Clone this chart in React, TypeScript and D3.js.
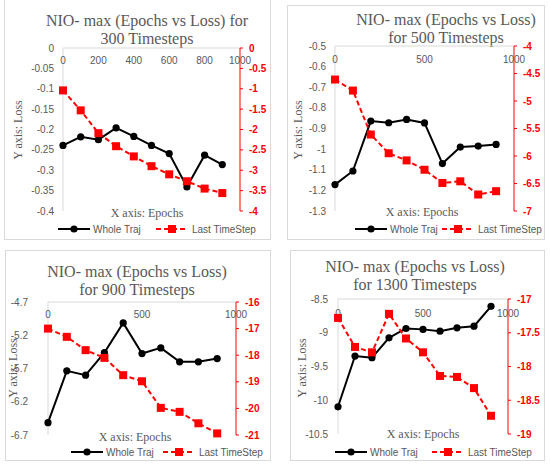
import * as d3 from 'd3';

// Epochs on the x axis (same for all four charts)
const EPOCHS = [0, 100, 200, 300, 400, 500, 600, 700, 800, 900];

// 300 timesteps
const WHOLE_300 = [-0.239, -0.218, -0.225, -0.196, -0.217, -0.239, -0.259, -0.341, -0.263, -0.286];
const LAST_300 = [-1.04, -1.53, -2.09, -2.41, -2.66, -2.9, -3.1, -3.27, -3.45, -3.56];
// 500 timesteps
const WHOLE_500 = [-1.172, -1.106, -0.864, -0.872, -0.856, -0.873, -1.07, -0.99, -0.985, -0.977];
const LAST_500 = [-4.61, -4.81, -5.61, -5.95, -6.08, -6.25, -6.49, -6.46, -6.7, -6.64];
// 900 timesteps
const WHOLE_900 = [-6.515, -5.735, -5.8, -5.46, -5.015, -5.475, -5.39, -5.6, -5.6, -5.55];
const LAST_900 = [-17.0, -17.31, -17.81, -18.1, -18.75, -18.98, -19.98, -20.13, -20.56, -20.94];
// 1300 timesteps
const WHOLE_1300 = [-10.097, -9.345, -9.37, -9.075, -8.937, -8.95, -8.976, -8.927, -8.903, -8.608];
const LAST_1300 = [-17.28, -17.71, -17.79, -17.22, -17.585, -17.79, -18.14, -18.155, -18.32, -18.73];

// axis ticks
const X_TICKS_300 = [0, 200, 400, 600, 800, 1000];
const X_TICKS = [0, 500, 1000];
const LEFT_TICKS_300 = [0, -0.05, -0.1, -0.15, -0.2, -0.25, -0.3, -0.35, -0.4];
const RIGHT_TICKS_300 = [0, -0.5, -1, -1.5, -2, -2.5, -3, -3.5, -4];
const LEFT_TICKS_500 = [-0.5, -0.6, -0.7, -0.8, -0.9, -1, -1.1, -1.2, -1.3];
const RIGHT_TICKS_500 = [-4, -4.5, -5, -5.5, -6, -6.5, -7];
const LEFT_TICKS_900 = [-4.7, -5.2, -5.7, -6.2, -6.7];
const RIGHT_TICKS_900 = [-16, -17, -18, -19, -20, -21];
const LEFT_TICKS_1300 = [-8.5, -9, -9.5, -10, -10.5];
const RIGHT_TICKS_1300 = [-17, -17.5, -18, -18.5, -19];

const GRAY = '#595959';
const LINE = '#d9d9d9';
const RED = '#ff0000';
const SERIF = '"Liberation Serif", "Times New Roman", serif';
const SANS = '"Liberation Sans", Arial, sans-serif';

interface PanelProps {
  box: [number, number, number, number];
  plot: { l: number; r: number; t: number; b: number };
  title: string[];
  titleX: number;
  titleY: number[];
  xTicks: number[];
  xTickY: number;
  leftTicks: number[];
  rightTicks: number[];
  whole: number[];
  last: number[];
  xTitle: [number, number];
  yTitle: [number, number];
  leftGap: number;
  legend: { y: number; a: number; b: number };
}

const fmt = (v: number) => (Math.abs(v) < 1e-9 ? '0' : String(+v.toFixed(2)));

function Panel(p: PanelProps) {
  const { plot } = p;
  const x = d3.scaleLinear().domain([0, 1000]).range([plot.l, plot.r]);
  const yl = d3.scaleLinear().domain(d3.extent(p.leftTicks) as [number, number]).range([plot.b, plot.t]);
  const yr = d3.scaleLinear().domain(d3.extent(p.rightTicks) as [number, number]).range([plot.b, plot.t]);

  const pts = (vals: number[], y: d3.ScaleLinear<number, number>) =>
    EPOCHS.map((e, i) => [x(e), y(vals[i])] as [number, number]);
  const line = d3.line();
  const wholePts = pts(p.whole, yl);
  const lastPts = pts(p.last, yr);
  const sw = 32;

  return (
    <g>
      <rect x={p.box[0] + 0.5} y={p.box[1] + 0.5} width={p.box[2]} height={p.box[3]} fill="#fff" stroke={LINE} />
      {p.title.map((t, i) => (
        <text key={i} x={p.titleX} y={p.titleY[i]} textAnchor="middle" fontFamily={SERIF} fontSize={16} fill={GRAY}>
          {t}
        </text>
      ))}
      {/* axis lines */}
      <line x1={plot.l} x2={plot.l} y1={plot.t} y2={plot.b} stroke={LINE} />
      <line x1={plot.l} x2={plot.r} y1={plot.t} y2={plot.t} stroke={LINE} />
      <line x1={plot.r} x2={plot.r} y1={plot.t} y2={plot.b} stroke={RED} />
      {p.rightTicks.map((v) => (
        <line key={v} x1={plot.r} x2={plot.r + 3} y1={yr(v)} y2={yr(v)} stroke={RED} />
      ))}
      {p.xTicks.map((v) => (
        <text key={v} x={x(v)} y={p.xTickY} textAnchor="middle" fontFamily={SANS} fontSize={10} fill={GRAY}>
          {v}
        </text>
      ))}
      {p.leftTicks.map((v) => (
        <text key={v} x={plot.l - p.leftGap} y={yl(v)} dy="0.35em" textAnchor="end" fontFamily={SANS} fontSize={10} fill={GRAY}>
          {fmt(v)}
        </text>
      ))}
      {p.rightTicks.map((v) => (
        <text key={v} x={plot.r + 9} y={yr(v)} dy="0.35em" fontFamily={SANS} fontSize={10} fontWeight="bold" fill={RED}>
          {fmt(v)}
        </text>
      ))}
      <text x={p.xTitle[0]} y={p.xTitle[1]} textAnchor="middle" fontFamily={SERIF} fontSize={12} fill={GRAY}>
        X axis: Epochs
      </text>
      <text
        transform={`translate(${p.yTitle[0]},${p.yTitle[1]}) rotate(-90)`}
        dy="0.35em"
        textAnchor="middle"
        fontFamily={SERIF}
        fontSize={12}
        fill={GRAY}
      >
        Y axis: Loss
      </text>
      {/* series */}
      <path d={line(wholePts) ?? ''} fill="none" stroke="#000" strokeWidth={2} />
      {wholePts.map(([cx, cy], i) => (
        <circle key={i} cx={cx} cy={cy} r={3.6} fill="#000" />
      ))}
      <path d={line(lastPts) ?? ''} fill="none" stroke={RED} strokeWidth={2} strokeDasharray="5 3" />
      {lastPts.map(([cx, cy], i) => (
        <rect key={i} x={cx - 4} y={cy - 4} width={8} height={8} fill={RED} />
      ))}
      {/* legend */}
      <g>
        <line x1={p.legend.a} x2={p.legend.a + sw} y1={p.legend.y} y2={p.legend.y} stroke="#000" strokeWidth={2} />
        <circle cx={p.legend.a + sw / 2} cy={p.legend.y} r={3.6} fill="#000" />
        <text x={p.legend.a + sw + 3} y={p.legend.y} dy="0.35em" fontFamily={SANS} fontSize={10} fill={GRAY}>
          Whole Traj
        </text>
        <line
          x1={p.legend.b}
          x2={p.legend.b + sw}
          y1={p.legend.y}
          y2={p.legend.y}
          stroke={RED}
          strokeWidth={2}
          strokeDasharray="5 3"
        />
        <rect x={p.legend.b + sw / 2 - 4} y={p.legend.y - 4} width={8} height={8} fill={RED} />
        <text x={p.legend.b + sw + 4} y={p.legend.y} dy="0.35em" fontFamily={SANS} fontSize={10} fill={GRAY}>
          Last TimeStep
        </text>
      </g>
    </g>
  );
}

export default function App() {
  return (
    <svg width={550} height={465} style={{ position: 'absolute', left: 0, top: 0, background: '#fff' }}>
      <Panel
        box={[4, -2, 266, 241]}
        plot={{ l: 63, r: 240, t: 48, b: 211 }}
        title={['NIO- max (Epochs vs Loss) for', '300 Timesteps']}
        titleX={147}
        titleY={[26, 44]}
        xTicks={X_TICKS_300}
        xTickY={64}
        leftTicks={LEFT_TICKS_300}
        rightTicks={RIGHT_TICKS_300}
        whole={WHOLE_300}
        last={LAST_300}
        xTitle={[147, 217]}
        yTitle={[18, 130]}
        leftGap={9}
        legend={{ y: 229, a: 58, b: 156 }}
      />
      <Panel
        box={[287, 5, 257, 234]}
        plot={{ l: 335, r: 514, t: 46, b: 211 }}
        title={['NIO- max (Epochs vs Loss)', 'for 500 Timesteps']}
        titleX={446}
        titleY={[25, 43]}
        xTicks={X_TICKS}
        xTickY={63}
        leftTicks={LEFT_TICKS_500}
        rightTicks={RIGHT_TICKS_500}
        whole={WHOLE_500}
        last={LAST_500}
        xTitle={[422, 216]}
        yTitle={[298, 130]}
        leftGap={9}
        legend={{ y: 229, a: 355, b: 442 }}
      />
      <Panel
        box={[5, 250, 265, 210]}
        plot={{ l: 48, r: 236, t: 302, b: 435 }}
        title={['NIO- max (Epochs vs Loss)', 'for 900 Timesteps']}
        titleX={137}
        titleY={[277, 295]}
        xTicks={X_TICKS}
        xTickY={318}
        leftTicks={LEFT_TICKS_900}
        rightTicks={RIGHT_TICKS_900}
        whole={WHOLE_900}
        last={LAST_900}
        xTitle={[135, 441]}
        yTitle={[13, 368]}
        leftGap={20}
        legend={{ y: 452, a: 71, b: 163 }}
      />
      <Panel
        box={[290, 250, 254, 210]}
        plot={{ l: 338, r: 508, t: 299, b: 434 }}
        title={['NIO- max (Epochs vs Loss)', 'for 1300 Timesteps']}
        titleX={415}
        titleY={[272, 290]}
        xTicks={X_TICKS}
        xTickY={317}
        leftTicks={LEFT_TICKS_1300}
        rightTicks={RIGHT_TICKS_1300}
        whole={WHOLE_1300}
        last={LAST_1300}
        xTitle={[423, 438]}
        yTitle={[302, 368]}
        leftGap={10}
        legend={{ y: 452, a: 335, b: 432 }}
      />
    </svg>
  );
}
